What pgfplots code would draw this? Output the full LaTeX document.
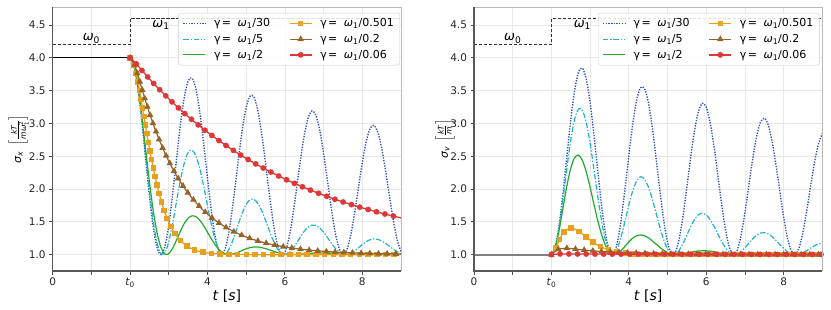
\documentclass[border=0pt]{standalone}
\usepackage{fontspec}
\setmainfont{DejaVu Sans}
\usepackage{amsmath}
\usepackage{pgfplots}
\pgfplotsset{compat=1.18}
\usepackage{pgfplotstable}

\definecolor{cBlue}{RGB}{45,85,190}
\definecolor{cCyan}{RGB}{30,180,205}
\definecolor{cGreen}{RGB}{34,170,45}
\definecolor{cOrange}{RGB}{230,160,30}
\definecolor{cBrown}{RGB}{150,100,40}
\definecolor{cRed}{RGB}{222,55,55}

\pgfplotstableread{
t bl cy gr
2.0 4.000 4.000 4.000
2.1 3.882 3.883 3.885
2.2 3.547 3.556 3.573
2.3 3.049 3.077 3.124
2.4 2.467 2.521 2.612
2.5 1.892 1.971 2.106
2.6 1.412 1.502 1.663
2.7 1.099 1.172 1.323
2.8 1.000 1.014 1.105
2.9 1.126 1.030 1.008
3.0 1.451 1.200 1.015
3.1 1.922 1.478 1.097
3.2 2.460 1.810 1.222
3.3 2.980 2.133 1.357
3.4 3.397 2.396 1.475
3.5 3.648 2.556 1.556
3.6 3.693 2.593 1.591
3.7 3.526 2.505 1.579
3.8 3.175 2.311 1.525
3.9 2.697 2.044 1.441
4.0 2.165 1.745 1.341
4.1 1.665 1.459 1.240
4.2 1.271 1.223 1.149
4.3 1.043 1.066 1.077
4.4 1.013 1.002 1.028
4.5 1.182 1.029 1.004
4.6 1.519 1.134 1.001
4.7 1.969 1.291 1.015
4.8 2.457 1.469 1.038
4.9 2.905 1.636 1.065
5.0 3.243 1.765 1.089
5.1 3.416 1.837 1.107
5.2 3.400 1.842 1.116
5.3 3.198 1.783 1.116
5.4 2.842 1.669 1.107
5.5 2.390 1.522 1.091
5.6 1.912 1.362 1.072
5.7 1.482 1.214 1.052
5.8 1.166 1.097 1.033
5.9 1.012 1.023 1.018
6.0 1.038 1.000 1.007
6.1 1.239 1.024 1.001
6.2 1.578 1.087 1.000
6.3 2.000 1.174 1.002
6.4 2.437 1.269 1.006
6.5 2.817 1.355 1.012
6.6 3.082 1.418 1.017
6.7 3.190 1.449 1.020
6.8 3.125 1.444 1.023
6.9 2.898 1.405 1.023
7.0 2.546 1.340 1.022
7.1 2.125 1.260 1.019
7.2 1.701 1.175 1.015
7.3 1.338 1.099 1.011
7.4 1.093 1.041 1.007
7.5 1.000 1.008 1.004
7.6 1.072 1.001 1.002
7.7 1.293 1.019 1.001
7.8 1.627 1.055 1.000
7.9 2.017 1.103 1.000
8.0 2.402 1.154 1.001
8.1 2.719 1.197 1.002
8.2 2.919 1.227 1.003
8.3 2.971 1.240 1.004
8.4 2.868 1.233 1.005
8.5 2.626 1.209 1.005
8.6 2.286 1.172 1.005
8.7 1.899 1.128 1.004
8.8 1.528 1.084 1.003
8.9 1.227 1.045 1.002
9.0 1.044 1.017 1.002
}\Ldata

\pgfplotstableread{
t bl cy gr
2.0 1.000 1.000 1.000
2.1 1.118 1.114 1.107
2.2 1.449 1.420 1.374
2.3 1.938 1.849 1.714
2.4 2.504 2.318 2.049
2.5 3.055 2.745 2.317
2.6 3.505 3.061 2.479
2.7 3.781 3.219 2.517
2.8 3.843 3.199 2.437
2.9 3.680 3.013 2.263
3.0 3.321 2.695 2.027
3.1 2.823 2.296 1.765
3.2 2.264 1.878 1.513
3.3 1.731 1.500 1.298
3.4 1.307 1.210 1.137
3.5 1.054 1.040 1.039
3.6 1.009 1.003 1.001
3.7 1.175 1.088 1.013
3.8 1.521 1.268 1.060
3.9 1.990 1.505 1.126
4.0 2.504 1.753 1.193
4.1 2.982 1.970 1.250
4.2 3.347 2.121 1.287
4.3 3.542 2.186 1.300
4.4 3.538 2.156 1.289
4.5 3.336 2.040 1.258
4.6 2.969 1.859 1.214
4.7 2.497 1.642 1.163
4.8 1.992 1.421 1.112
4.9 1.534 1.228 1.067
5.0 1.192 1.087 1.033
5.1 1.017 1.011 1.011
5.2 1.033 1.006 1.001
5.3 1.234 1.063 1.001
5.4 1.584 1.168 1.009
5.5 2.026 1.297 1.022
5.6 2.487 1.427 1.035
5.7 2.894 1.536 1.047
5.8 3.182 1.608 1.055
5.9 3.307 1.631 1.059
6.0 3.250 1.605 1.058
6.1 3.021 1.535 1.053
6.2 2.656 1.433 1.044
6.3 2.215 1.316 1.034
6.4 1.766 1.201 1.024
6.5 1.378 1.103 1.015
6.6 1.110 1.034 1.008
6.7 1.001 1.002 1.003
6.8 1.066 1.007 1.000
6.9 1.291 1.044 1.000
7.0 1.636 1.103 1.001
7.1 2.046 1.173 1.003
7.2 2.454 1.241 1.006
7.3 2.795 1.295 1.009
7.4 3.015 1.328 1.011
7.5 3.080 1.335 1.012
7.6 2.981 1.316 1.012
7.7 2.734 1.274 1.011
7.8 2.380 1.217 1.009
7.9 1.974 1.155 1.007
8.0 1.579 1.095 1.005
8.1 1.256 1.045 1.003
8.2 1.054 1.013 1.001
8.3 1.002 1.000 1.000
8.4 1.105 1.007 1.000
8.5 1.343 1.029 1.000
8.6 1.677 1.062 1.001
8.7 2.052 1.100 1.001
8.8 2.408 1.135 1.002
8.9 2.687 1.162 1.002
9.0 2.847 1.176 1.002
}\Rdata

\pgfplotsset{
 myaxis/.style={
  scale only axis, width=348.3pt, height=263.7pt,
  xmin=0, xmax=9, ymin=0.75, ymax=4.77,
  clip mode=individual,
  xtick={0,2,4,6,8}, xticklabels={0,\textit{t}\textsubscript{0},4,6,8},
  minor xtick={1,3,5,7},
  ytick={1,1.5,2,2.5,3,3.5,4,4.5},
  yticklabel style={/pgf/number format/.cd, fixed, fixed zerofill, precision=1},
  /pgf/number format/assume math mode=true,
  grid=both,
  major grid style={draw=black!9, line width=0.7pt},
  minor grid style={draw=black!9, line width=0.7pt},
  axis line style={draw=none},
  xtick pos=left, ytick pos=left, tick align=outside,
  major tick length=3.5pt, minor tick length=3.5pt,
  tick style={draw=black!70, line width=0.8pt},
  tick label style={font=\fontsize{10.5}{12}\selectfont, text=black!85},
  xlabel={\textit{t} [\textit{s}]},
  xlabel style={font=\fontsize{14}{16}\selectfont, yshift=4pt},
  legend cell align=left,
  legend columns=3, transpose legend,
  legend image code/.code={\draw[mark repeat=2,mark phase=2,##1] plot coordinates {(0pt,0pt) (11pt,0pt) (22pt,0pt)};},
  legend style={font=\fontsize{11}{13}\selectfont, draw=black!20, rounded corners=2pt,
    fill=white, fill opacity=0.85, text opacity=1, inner xsep=4pt, inner ysep=3.5pt,
    row sep=2pt, column sep=6pt, /tikz/every even column/.append style={column sep=17pt}},
 },
 sBlue/.style={color=cBlue, line width=1.4pt, dash pattern=on 1.3pt off 1.4pt},
 sCyan/.style={color=cCyan, line width=1.2pt, dash pattern=on 5.5pt off 1.8pt on 1.3pt off 1.8pt},
 sGreen/.style={color=cGreen, line width=1.2pt},
 sOrange/.style={color=cOrange, line width=1.3pt, mark size=2.1pt, mark options={solid, fill=cOrange, draw=cOrange}},
 sBrown/.style={color=cBrown, line width=1.2pt, mark size=2.6pt, mark options={solid, fill=cBrown, draw=cBrown}},
 sRed/.style={color=cRed, line width=1.3pt, mark size=2.2pt, mark options={solid, fill=cRed, draw=cRed}},
}

\newcommand{\spines}{%
  \draw[black!28, line width=0.8pt] (rel axis cs:0,1) -- (rel axis cs:1,1) -- (rel axis cs:1,0);
  \draw[black!65, line width=1.1pt] (rel axis cs:0,1) -- (rel axis cs:0,0) -- (rel axis cs:1,0);
}
\newcommand{\gam}[1]{γ\hspace{0.12em}=\hspace{0.6em}\textit{ω}\textsubscript{1}/#1}
\newcommand{\legendentries}{%
  \addlegendimage{sBlue}\addlegendentry{\gam{30}}
  \addlegendimage{sCyan}\addlegendentry{\gam{5}}
  \addlegendimage{sGreen}\addlegendentry{\gam{2}}
  \addlegendimage{sOrange, mark=square*}\addlegendentry{\gam{0.501}}
  \addlegendimage{sBrown, mark=triangle*}\addlegendentry{\gam{0.2}}
  \addlegendimage{sRed, mark=*}\addlegendentry{\gam{0.06}}
}
\newcommand{\omegalabels}{%
  \node[anchor=south, font=\fontsize{13}{15}\selectfont, inner sep=1pt] at (axis cs:1,4.2) {\textit{ω}\textsubscript{0}};
  \node[anchor=north, font=\fontsize{13}{15}\selectfont, inner sep=1.5pt] at (axis cs:2.8,4.6) {\textit{ω}\textsubscript{1}};
}

\begin{document}
\begin{tikzpicture}
\useasboundingbox (0,0) rectangle (831pt,309pt);

% ---------------- left: sigma_x
\begin{axis}[myaxis, at={(52.7pt,38pt)}, anchor=south west,
  ylabel={\textit{σ}\textsubscript{\textit{x}}\, $\left[\frac{\text{\itshape kT}}{\text{\itshape mω}^{\text{2}}_{\text{1}}}\right]$},
  ylabel style={font=\fontsize{11}{13}\selectfont, at={(axis description cs:-0.098,0.5)}, anchor=center, inner sep=0pt},
  legend style={at={(1,1)}, anchor=north east, xshift=-1pt, yshift=-5.7pt}]
\addplot[black!80, line width=1.1pt, dash pattern=on 3.2pt off 1.8pt, forget plot] coordinates {(0,4.2) (2,4.2) (2,4.6) (9,4.6)};
\addplot[black, line width=1.2pt, forget plot] coordinates {(0,4.0) (2,4.0)};
\addplot[sBlue, smooth, forget plot] table[x=t, y=bl] {\Ldata};
\addplot[sCyan, smooth, forget plot] table[x=t, y=cy] {\Ldata};
\addplot[sGreen, smooth, forget plot] table[x=t, y=gr] {\Ldata};
% orange (marks spaced along the curve)
\addplot[sOrange, smooth, mark=square*, forget plot] coordinates {
(2.000,4.000) (2.1025,3.891) (2.1578,3.762) (2.2038,3.631) (2.245,3.500) (2.284,3.368) (2.3218,3.237)
(2.359,3.106) (2.3965,2.975) (2.4345,2.843) (2.4733,2.712) (2.5135,2.581) (2.556,2.448) (2.5985,2.322)
(2.647,2.187) (2.696,2.061) (2.7523,1.928) (2.8115,1.804) (2.880,1.676) (2.9585,1.552) (3.0505,1.432)
(3.1615,1.318) (3.2975,1.216) (3.4688,1.131) (3.668,1.071) (3.8835,1.036) (4.1045,1.018) (4.3295,1.009)
(4.554,1.004) (4.779,1.002) (5.004,1.001) (5.229,1.000) (5.453,1.000) (5.678,1.000) (5.903,1.000)
(6.128,1.000) (6.352,1.000) (6.577,1.000) (6.802,1.000) (7.027,1.000) (7.251,1.000) (7.476,1.000)
(7.701,1.000) (7.926,1.000) (8.150,1.000) (8.375,1.000) (8.600,1.000) (8.825,1.000)};
\addplot[sOrange, forget plot] coordinates {(8.825,1.000) (9.0,1.000)};
% brown
\addplot[sBrown, smooth, mark=triangle*, forget plot] coordinates {
(2.000,4.000) (2.113,3.893) (2.185,3.765) (2.2505,3.637) (2.3148,3.509) (2.380,3.382) (2.4474,3.254)
(2.5169,3.128) (2.5899,3.003) (2.6687,2.876) (2.7484,2.756) (2.8395,2.627) (2.931,2.508) (3.0265,2.392)
(3.1345,2.272) (3.2425,2.162) (3.367,2.048) (3.4925,1.943) (3.635,1.838) (3.7825,1.741) (3.943,1.648)
(4.117,1.560) (4.298,1.482) (4.4795,1.414) (4.679,1.350) (4.8815,1.296) (5.0885,1.249) (5.3025,1.208)
(5.517,1.174) (5.737,1.145) (5.957,1.121) (6.1795,1.100) (6.4025,1.083) (6.6255,1.069) (6.8485,1.057)
(7.072,1.048) (7.2965,1.039) (7.521,1.033) (7.7455,1.027) (7.970,1.022) (8.1945,1.019) (8.419,1.015)
(8.6435,1.013) (8.868,1.011)};
\addplot[sBrown, forget plot] coordinates {(8.868,1.011) (9.0,1.010)};
% red
\addplot[sRed, smooth, mark=*, forget plot] coordinates {
(2.000,4.000) (2.159,3.908) (2.3069,3.807) (2.4555,3.708) (2.6095,3.609) (2.766,3.513) (2.9225,3.420)
(3.0835,3.328) (3.2495,3.236) (3.415,3.149) (3.5855,3.063) (3.760,2.978) (3.9345,2.896) (4.114,2.816)
(4.2965,2.738) (4.479,2.663) (4.668,2.589) (4.8575,2.518) (5.0485,2.450) (5.244,2.383) (5.440,2.320)
(5.639,2.258) (5.840,2.198) (6.042,2.141) (6.2475,2.086) (6.453,2.034) (6.661,1.983) (6.8705,1.935)
(7.0805,1.889) (7.293,1.844) (7.505,1.802) (7.720,1.762) (7.9345,1.724) (8.151,1.687) (8.3675,1.652)
(8.585,1.619) (8.8035,1.587)};
\addplot[sRed, forget plot] coordinates {(8.8035,1.587) (9.0,1.560)};
\legendentries
\omegalabels
\spines
\end{axis}

% ---------------- right: sigma_v
\begin{axis}[myaxis, at={(474pt,38pt)}, anchor=south west,
  ylabel={\textit{σ}\textsubscript{\textit{v}}\, $\left[\frac{\text{\itshape kT}}{\text{\itshape m}}\right]$},
  ylabel style={font=\fontsize{11}{13}\selectfont, at={(axis description cs:-0.083,0.5)}, anchor=center, inner sep=0pt},
  legend style={at={(1,1)}, anchor=north east, xshift=-2.7pt, yshift=-5.7pt}]
\addplot[black!80, line width=1.1pt, dash pattern=on 3.2pt off 1.8pt, forget plot] coordinates {(0,4.2) (2,4.2) (2,4.6) (9,4.6)};
\addplot[black!50, line width=1.8pt, forget plot] coordinates {(0,1.0) (2,1.0)};
\addplot[sBlue, smooth, forget plot] table[x=t, y=bl] {\Rdata};
\addplot[sCyan, smooth, forget plot] table[x=t, y=cy] {\Rdata};
\addplot[sGreen, smooth, forget plot] table[x=t, y=gr] {\Rdata};
% orange
\addplot[sOrange, smooth, mark=square*, forget plot] coordinates {
(2.000,1.000) (2.120,1.107) (2.212,1.231) (2.3255,1.346) (2.5115,1.406) (2.7133,1.352) (2.891,1.270)
(3.0725,1.189) (3.2653,1.122) (3.472,1.072) (3.689,1.040) (3.911,1.021) (4.135,1.011) (4.360,1.005)
(4.585,1.003) (4.809,1.001) (5.035,1.001) (5.259,1.000) (5.484,1.000) (5.709,1.000) (5.934,1.000)
(6.158,1.000) (6.383,1.000) (6.608,1.000) (6.833,1.000) (7.058,1.000) (7.282,1.000) (7.507,1.000)
(7.732,1.000) (7.957,1.000) (8.181,1.000) (8.406,1.000) (8.631,1.000) (8.856,1.000)};
\addplot[sOrange, forget plot] coordinates {(8.856,1.000) (9.0,1.000)};
% brown
\addplot[sBrown, smooth, mark=triangle*, forget plot] coordinates {
(2.000,1.000) (2.179,1.080) (2.398,1.097) (2.622,1.084) (2.846,1.070) (3.0705,1.058) (3.2945,1.048)
(3.519,1.040) (3.743,1.033) (3.9675,1.028) (4.1915,1.023) (4.416,1.019) (4.640,1.016) (4.8645,1.013)
(5.0885,1.011) (5.313,1.009) (5.537,1.007) (5.7615,1.006) (5.9855,1.005) (6.210,1.004) (6.434,1.004)
(6.6585,1.003) (6.8825,1.002) (7.107,1.002) (7.331,1.002) (7.5555,1.001) (7.7795,1.001) (8.004,1.001)
(8.228,1.001) (8.4525,1.001) (8.6765,1.001) (8.901,1.000)};
\addplot[sBrown, forget plot] coordinates {(8.901,1.000) (9.0,1.000)};
% red
\addplot[sRed, smooth, mark=*, forget plot] coordinates {
(2.000,1.000) (2.2248,1.0104) (2.4496,1.0098) (2.6744,1.0093) (2.8992,1.0088) (3.124,1.0084) (3.3488,1.0079)
(3.5736,1.0075) (3.7984,1.0071) (4.0232,1.0067) (4.248,1.0064) (4.4728,1.0060) (4.6976,1.0057) (4.9224,1.0054)
(5.1472,1.0051) (5.372,1.0049) (5.5968,1.0046) (5.8216,1.0044) (6.0464,1.0041) (6.2712,1.0039) (6.496,1.0037)
(6.7208,1.0035) (6.9456,1.0033) (7.1704,1.0032) (7.3952,1.0030) (7.62,1.0028) (7.8448,1.0027) (8.0696,1.0025)
(8.2944,1.0024) (8.5192,1.0023) (8.744,1.0022) (8.9688,1.0020)};
\legendentries
\omegalabels
\spines
\end{axis}
\end{tikzpicture}
\end{document}
